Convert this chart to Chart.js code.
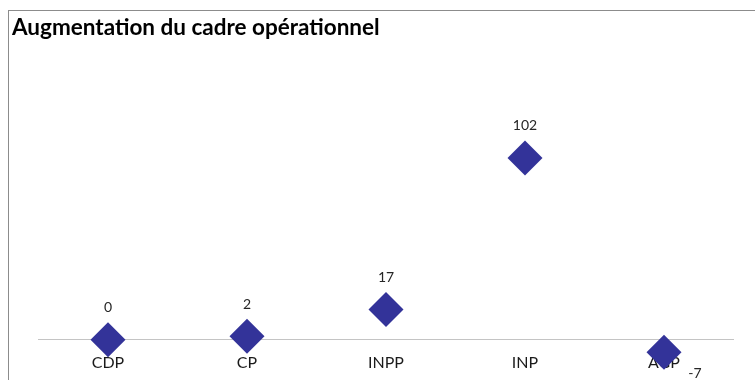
<!DOCTYPE html>
<html>
<head>
<meta charset="utf-8">
<script src="https://cdn.jsdelivr.net/npm/chart.js@4"></script>
<style>
  body { margin: 0; background: #fff; }
  #frame {
    position: absolute; left: 8px; top: 10px;
    width: 747px; height: 370px;
    border-left: 1px solid #8c8c8c; border-top: 1px solid #8c8c8c;
  }
  #frame canvas { display: block; }
</style>
</head>
<body>
<div id="frame"><canvas id="cadreChart" width="746" height="369"></canvas></div>
<script>
const categories = ['CDP', 'CP', 'INPP', 'INP', 'AGP'];
const augmentation = [0, 2, 17, 102, -7];
const chartTitle = 'Augmentation du cadre opérationnel';

// value labels above each diamond (negative ones go below-right)
const valueLabels = {
    id: 'valueLabels',
    afterDatasetsDraw(chart) {
        const ctx = chart.ctx;
        const meta = chart.getDatasetMeta(0);
        ctx.save();
        ctx.font = '14px Lato';
        ctx.fillStyle = '#262626';
        ctx.textAlign = 'center';
        ctx.textBaseline = 'middle';
        meta.data.forEach((pt, i) => {
            const v = chart.data.datasets[0].data[i];
            if (v < 0) {
                ctx.fillText(String(v), pt.x + 31, pt.y + 21);
            } else {
                ctx.fillText(String(v), pt.x, pt.y - 32);
            }
        });
        ctx.restore();
    }
};

const ctx = document.getElementById('cadreChart').getContext('2d');
const cadreChart = new Chart(ctx, {
    type: 'line',
    data: {
        labels: categories,
        datasets: [{
            label: 'Augmentation',
            data: augmentation,
            showLine: false,
            pointStyle: 'rectRot',
            pointRadius: 17.5,
            pointHoverRadius: 17.5,
            pointBackgroundColor: '#333399',
            pointBorderColor: '#333399',
            pointBorderWidth: 0,
            clip: false
        }]
    },
    plugins: [valueLabels],
    options: {
        responsive: false,
        animation: false,
        events: [],
        layout: { padding: { left: 3, right: 21.5, top: 0, bottom: 0 } },
        plugins: {
            legend: { display: false },
            tooltip: { enabled: false },
            title: {
                display: true,
                text: chartTitle,
                align: 'start',
                color: '#000',
                font: { family: 'Lato', size: 22.5, weight: 'bold' },
                padding: { top: 3, bottom: 10 }
            }
        },
        scales: {
            x: {
                offset: true,
                position: { y: 0 },
                grid: { display: false, drawTicks: false },
                border: { display: true, color: '#c4c4c4', width: 1 },
                ticks: {
                    color: '#1a1a1a',
                    font: { family: 'Lato', size: 16 },
                    padding: 13
                }
            },
            y: {
                min: -12.7,
                max: 162,
                grid: { display: false },
                border: { display: false },
                ticks: { display: false },
                afterFit(scale) { scale.width = 26.5; }
            }
        }
    }
});
</script>
</body>
</html>
